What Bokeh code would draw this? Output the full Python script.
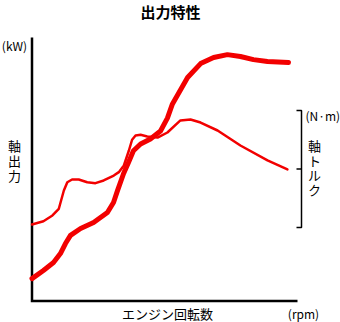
from bokeh.plotting import figure
from bokeh.models import Range1d
from bokeh.core.properties import value
from bokeh.embed import file_html
from bokeh.resources import INLINE

# ---- data (relative units) ----
# engine speed, % of axis length
power_rpm = [0, 4.3, 8.1, 10.7, 12.6, 14.5, 18.3, 23.2, 28.4, 30.7, 32.2, 34.5, 36.3, 38.2,
             40.9, 44.6, 48.4, 51.0, 52.9, 58.6, 63.5, 68.4, 73.6, 78.5, 83.4, 88.7, 96.6]
power_kw = [8.5, 11.6, 14.6, 18.0, 21.8, 24.9, 27.5, 29.8, 33.6, 37.4, 41.9, 48.4, 52.5, 57.0,
            59.6, 61.5, 64.5, 69.4, 74.8, 84.8, 90.1, 92.4, 93.5, 92.8, 91.6, 90.9, 90.5]

torque_rpm = [0, 4.3, 7.7, 10.1, 12.0, 13.3, 15.1, 17.6, 20.8, 23.9, 27.0, 30.8, 32.7, 34.6,
              36.5, 37.7, 39.0, 40.9, 43.4, 47.3, 51.0, 55.9, 59.7, 63.5, 69.9, 78.5, 88.7, 96.2]
torque_nm = [2.6, 5.4, 10.3, 16.0, 31.6, 38.7, 41.0, 41.0, 38.7, 37.9, 40.2, 44.4, 47.3, 53.0,
             65.8, 75.0, 78.6, 79.2, 77.8, 76.9, 81.2, 91.5, 92.3, 89.7, 82.9, 70.1, 57.3, 49.6]

title_text = "出力特性"
power_label = "軸出力"
power_unit = "(kW)"
torque_label = "軸トルク"
torque_unit = "(N·m)"
x_label = "エンジン回転数"
x_unit = "(rpm)"

# ---- layout (pixels) ----
W, H = 340, 322
X0_PX, X100_PX = 31.5, 297.0      # x axis 0..100
P0_PX, P100_PX = 300.5, 37.0      # power axis 0..100
T0_PX, T100_PX = 227.0, 110.0     # torque bracket 0..100

xs = (X100_PX - X0_PX) / 100.0
ps = (P0_PX - P100_PX) / 100.0
ts = (T0_PX - T100_PX) / 100.0

x_start = -X0_PX / xs
x_end = (W - X0_PX) / xs
p_start = -(H - P0_PX) / ps
p_end = P0_PX / ps
t_start = -(H - T0_PX) / ts
t_end = T0_PX / ts

def sx(px):
    return (px - X0_PX) / xs

def sy(py):
    return (P0_PX - py) / ps

p = figure(width=W, height=H, x_range=Range1d(x_start, x_end), y_range=Range1d(p_start, p_end),
           output_backend="svg", toolbar_location=None, min_border=0)
p.extra_y_ranges = {"torque": Range1d(t_start, t_end)}
p.axis.visible = False
p.grid.visible = False
p.outline_line_color = None
p.background_fill_color = "white"
p.border_fill_color = "white"

RED = "#f20000"
FONT = value("Noto Sans CJK JP")

# axes
p.line([0, 0, 100], [100, 0, 0], line_color="black", line_width=2.5, line_join="miter")

# torque bracket
bx = sx(301)
btick = sx(296)
p.line([btick, bx, bx, btick], [100, 100, 0, 0], line_color="black", line_width=1.5,
       y_range_name="torque")
p.segment(x0=[btick], y0=[50], x1=[bx], y1=[50], line_color="black", line_width=1.5,
          y_range_name="torque")

# curves
p.line(torque_rpm, torque_nm, line_color=RED, line_width=2.5, line_cap="round",
       line_join="round", y_range_name="torque")
p.line(power_rpm, power_kw, line_color=RED, line_width=5, line_cap="round", line_join="round")

# texts
p.text(x=[sx(170)], y=[sy(11)], text=[title_text], text_font=FONT, text_font_size="15px",
       text_font_style="bold", text_align="center", text_baseline="middle", text_color="black")
p.text(x=[sx(14)], y=[sy(45)], text=[power_unit], text_font=FONT, text_font_size="12px",
       text_align="center", text_baseline="middle", text_color="black")

# vertical labels, one character per line
pl = list(power_label)
p.text(x=[sx(14)] * len(pl), y=[sy(145 + i * 15.0) for i in range(len(pl))], text=pl,
       text_font=FONT, text_font_size="13px", text_align="center", text_baseline="middle",
       text_color="black")
tl = list(torque_label)
p.text(x=[sx(314)] * len(tl), y=[sy(145 + i * 14.5) for i in range(len(tl))], text=tl,
       text_font=FONT, text_font_size="13px", text_align="center", text_baseline="middle",
       text_color="black")

p.text(x=[sx(305)], y=[sy(115)], text=[torque_unit], text_font=FONT, text_font_size="12px",
       text_align="left", text_baseline="middle", text_color="black")
p.text(x=[sx(167)], y=[sy(313)], text=[x_label], text_font=FONT, text_font_size="13px",
       text_align="center", text_baseline="middle", text_color="black")
p.text(x=[sx(303)], y=[sy(313)], text=[x_unit], text_font=FONT, text_font_size="12px",
       text_align="center", text_baseline="middle", text_color="black")

open("out.html", "w").write(file_html(p, INLINE))
